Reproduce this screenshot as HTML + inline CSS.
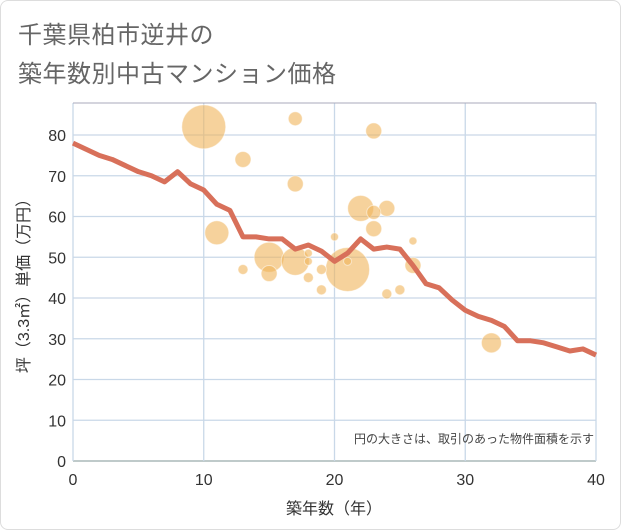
<!DOCTYPE html>
<html><head><meta charset="utf-8"><style>
body{margin:0;background:#fff;font-family:"Liberation Sans","Noto Sans CJK JP",sans-serif}
#wrap{position:relative;width:619px;height:528px;border:1px solid #ddd;border-radius:8px;background:#fff}
.t{position:absolute;left:17px;font-size:24px;color:#666;letter-spacing:0.5px}
</style></head><body>
<div id="wrap">
<div class="t" style="top:14px">千葉県柏市逆井の</div>
<div class="t" style="top:53px">築年数別中古マンション価格</div>
<svg id="c" width="621" height="530" style="position:absolute;left:-1px;top:-1px"></svg>
</div>
<script>
const xTicks=[0,10,20,30,40];
const yTicks=[0,10,20,30,40,50,60,70,80];
const lineX=[0,1,2,3,4,5,6,7,8,9,10,11,12,13,14,15,16,17,18,19,20,21,22,23,24,25,26,27,28,29,30,31,32,33,34,35,36,37,38,39,40];
const lineY=[78,76.5,75,74,72.5,71,70,68.5,71,68,66.5,63,61.5,55,55,54.5,54.5,52,53,51.5,49,51,54.5,52,52.5,52,48,43.5,42.5,39.5,37,35.5,34.5,33,29.5,29.5,29,28,27,27.5,26];
const bubX=[10,17,23,13,17,11,22,24,23,23,20,26,15,17,18,21,21,19,15,13,18,19,24,25,26,32,18];
const bubY=[82,84,81,74,68,56,62,62,61,57,55,54,50,49,49,47,49,47,46,47,45,42,41,42,48,29,51];
const bubR=[22,7,8,8,8,12,13,8,7,8,4,4,15,14,4,22,4,5,8,5,5,5,5,5,8,10,4];
const ns="http://www.w3.org/2000/svg",svg=document.getElementById('c');
const X=v=>73+v*(523/40),Y=v=>461-v*4.075;
function mk(t,a,p){const e=document.createElementNS(ns,t);for(const k in a)e.setAttribute(k,a[k]);(p||svg).appendChild(e);return e;}
yTicks.forEach(v=>{const l=mk('line',{x1:73,x2:596,y1:Y(v),y2:Y(v),stroke:v==0?'#9aa':'#c9d8e8','stroke-width':1.3});

const t=mk('text',{x:66,y:Y(v)+6,'text-anchor':'end','font-size':16,fill:'#333'});t.textContent=v;
});
xTicks.forEach(v=>{const l=mk('line',{x1:X(v),x2:X(v),y1:103,y2:461,stroke:'#c9d8e8','stroke-width':1.3});

const t=mk('text',{x:X(v),y:485,'text-anchor':'middle','font-size':16,fill:'#333'});t.textContent=v;
});
const plotTop=mk('line',{x1:73,x2:596,y1:103,y2:103,stroke:'#aab','stroke-width':1});


bubX.forEach((x,i)=>{const c=mk('circle',{cx:X(x),cy:Y(bubY[i]),r:bubR[i],fill:'rgba(240,180,90,0.6)',stroke:'#fff','stroke-opacity':0.5});

});
const p=mk('polyline',{points:lineX.map((x,i)=>X(x)+','+Y(lineY[i])).join(' '),fill:'none',stroke:'#d8705a','stroke-width':5,'stroke-linejoin':'round'});


const n=mk('text',{x:594,y:443,'text-anchor':'end','font-size':12,fill:'#444'});n.textContent='円の大きさは、取引のあった物件面積を示す';


const xt=mk('text',{x:334,y:514,'text-anchor':'middle','font-size':16,fill:'#333'});xt.textContent='築年数（年）';


const yt=mk('text',{x:0,y:0,'text-anchor':'middle','font-size':16,fill:'#333',transform:'translate(29,282) rotate(-90)'});yt.textContent='坪（3.3㎡）単価（万円）';


</script>
</body></html>
